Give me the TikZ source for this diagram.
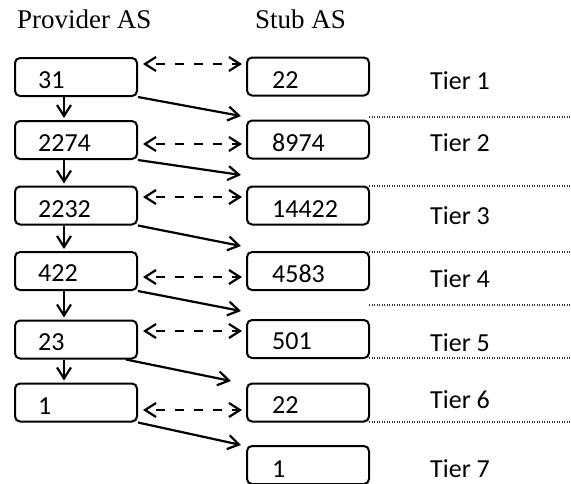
\documentclass[tikz,border=0pt]{standalone}
\usepackage{fontspec}
\setmainfont{Liberation Serif}
\newfontfamily\boxfont{Carlito}
\usetikzlibrary{arrows.meta,calc}

\begin{document}
\begin{tikzpicture}[x=1pt,y=-1pt,
  asbox/.style={draw, rounded corners=5pt, line width=2pt,
    minimum width=122pt, minimum height=38pt, inner sep=0pt},
  asnum/.style={anchor=base west, inner sep=0pt,
    font=\boxfont\fontsize{26}{30}\selectfont},
  tierlabel/.style={anchor=base west, inner sep=0pt,
    font=\boxfont\fontsize{26}{30}\selectfont},
  header/.style={anchor=base west, inner sep=0pt,
    font=\fontsize{27}{30}\selectfont},
  tip/.tip={Straight Barb[length=11pt,width=14pt]},
  link/.style={line width=2.2pt, -tip},
  peer/.style={line width=2.2pt, dash pattern=on 9pt off 10pt, dash phase=9pt,
    tip-tip, shorten <=5pt, shorten >=4pt},
  tierline/.style={line width=1.1pt, dash pattern=on 1.1pt off 1.4pt, black!80}
]
\useasboundingbox (0,0) rectangle (571,483);

% headers
\node[header] (hprov) at (17,28) {Provider AS};
\node[header] (hstub) at (255,28) {Stub AS};

% provider AS column
\node[asbox] (p1) at (76,77)    {};
\node[asbox] (p2) at (76,140)   {};
\node[asbox] (p3) at (76,205.5) {};
\node[asbox] (p4) at (76,271)   {};
\node[asbox] (p5) at (76,339.5) {};
\node[asbox] (p6) at (76,402.5) {};

% stub AS column
\node[asbox] (s1) at (308,76.5)  {};
\node[asbox] (s2) at (308,139.5) {};
\node[asbox] (s3) at (308,205.5) {};
\node[asbox] (s4) at (308,271)   {};
\node[asbox] (s5) at (308,339)   {};
\node[asbox] (s6) at (308,402.5) {};
\node[asbox] (s7) at (308,465)   {};

% AS numbers
\node[asnum] at (38,88)  {31};
\node[asnum] at (38,151) {2274};
\node[asnum] at (38,217) {2232};
\node[asnum] at (38,281) {422};
\node[asnum] at (38,350) {23};
\node[asnum] at (38,414) {1};
\node[asnum] at (272,88)  {22};
\node[asnum] at (272,151) {8974};
\node[asnum] at (272,217) {14422};
\node[asnum] at (272,282) {4583};
\node[asnum] at (272,349) {501};
\node[asnum] at (272,413) {22};
\node[asnum] at (272,477) {1};

% tier labels
\node[tierlabel] at (430,89)  {Tier 1};
\node[tierlabel] at (430,151) {Tier 2};
\node[tierlabel] at (430,224) {Tier 3};
\node[tierlabel] at (430,287) {Tier 4};
\node[tierlabel] at (430,351) {Tier 5};
\node[tierlabel] at (430,408) {Tier 6};
\node[tierlabel] at (430,477) {Tier 7};

% tier separators
\foreach \yy in {117,186,252,305,358,422}
  \draw[tierline] (369,\yy) -- (571,\yy);

% provider chain
\foreach \a/\b in {p1/p2,p2/p3,p3/p4,p4/p5,p5/p6}
  \draw[link, shorten >=2pt] ($(\a.south west)+(50,0)$) -- ($(\b.north west)+(50,0)$);

% peering links
\foreach \p/\s/\d in {p1/s1/7,p2/s2/24,p3/s3/11.5,p4/s4/26,p5/s5/11.5,p6/s6/27.5}{
  \coordinate (pl-\p) at ($(\p.north east)+(0,\d)$);
  \draw[peer] (pl-\p) -- (pl-\p -| \s.west);
}

% provider-to-stub links
\draw[link] (p1.south east) -- ($(s2.north west)+(-5,-3.5)$);
\draw[link] (p2.south east) -- ($(s3.north west)+(-5,-10.5)$);
\draw[link] (p3.south east) -- ($(s4.north west)+(-5,-5)$);
\draw[link] (p4.south east) -- ($(s5.north west)+(-5,-8)$);
\draw[link] ($(p5.south east)+(-12,0)$) -- ($(s6.north west)+(-15,-1.5)$);
\draw[link] (p6.south east) -- ($(s7.north west)+(-5,0)$);
\end{tikzpicture}
\end{document}
